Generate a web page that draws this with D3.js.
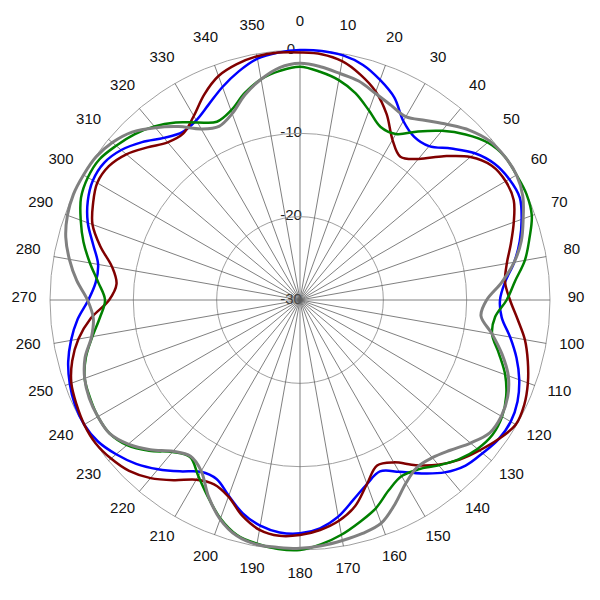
<!DOCTYPE html>
<html>
<head>
<meta charset="utf-8">
<script src="https://cdn.jsdelivr.net/npm/d3@7/dist/d3.min.js"></script>
<style>
  html, body { margin: 0; padding: 0; background: #fff; }
  svg { display: block; }
  text { font-family: "Liberation Sans", Arial, sans-serif; }
</style>
</head>
<body>
<svg id="chart" width="600" height="600"></svg>
<script>
// Angles (degrees, clockwise from top), every 5 degrees
const angles = d3.range(0, 360, 5);

// Series values in dB, one per angle
const blueValues = [
  0, 0, -0.2, -0.8, -1.9, -3.2, -5.2, -6.1, -5.9, -4.3, -2.6, -1.5,
  -1.0, -0.9, -1.7, -2.7, -3.9, -5.3, -6.0, -5.7, -4.4, -3.1, -2.0, -1.2,
  -0.8, -0.9, -1.4, -1.9, -3.0, -4.6, -6.2, -7.3, -6.5, -5.2, -3.6, -2.5,
  -2.0, -2.0, -2.5, -3.5, -5.0, -6.3, -6.2, -4.9, -3.5, -2.2, -1.2, -0.4,
  -0.1, -0.2, -0.6, -1.2, -2.1, -3.2, -4.6, -5.4, -5.4, -4.3, -2.9, -1.9,
  -1.3, -1.3, -2.0, -3.2, -4.6, -5.4, -5.1, -4.1, -2.8, -1.6, -0.6, -0.2
];
const redValues = [
  -0.3, -0.4, -0.9, -2.0, -3.4, -5.4, -7.8, -9.0, -7.9, -5.6, -3.3, -1.9,
  -1.5, -1.7, -2.7, -3.8, -4.8, -5.3, -4.8, -3.8, -2.6, -1.7, -0.9, -0.3,
  -0.1, -0.9, -1.9, -2.9, -4.2, -5.8, -7.5, -8.1, -6.5, -4.4, -3.1, -2.3,
  -1.8, -1.6, -2.0, -3.2, -4.9, -5.6, -5.1, -3.6, -2.1, -1.0, -0.4, -0.05,
  -0.1, -0.4, -0.8, -1.7, -3.0, -4.8, -7.1, -7.9, -7.1, -5.2, -3.5, -2.6,
  -1.9, -2.0, -2.8, -4.1, -5.3, -5.6, -4.5, -2.8, -1.4, -0.7, -0.3, -0.2
];
const greenValues = [
  -2.0, -2.5, -3.2, -4.3, -5.8, -7.1, -7.0, -5.3, -3.5, -1.9, -0.6, 0,
  0, 0, -0.4, -1.5, -2.6, -4.1, -5.2, -6.5, -6.6, -5.3, -3.8, -2.7,
  -2.0, -1.8, -2.2, -3.0, -4.1, -5.2, -5.6, -4.8, -3.4, -2.4, -1.4, -0.6,
  0, 0, -0.3, -0.8, -2.1, -3.9, -5.6, -7.0, -6.2, -4.4, -2.9, -2.1,
  -2.0, -2.2, -2.5, -3.4, -4.7, -5.9, -6.6, -5.7, -4.4, -3.1, -2.0, -1.0,
  -0.6, -0.6, -1.2, -1.9, -2.8, -4.0, -5.4, -6.4, -5.8, -4.3, -3.1, -2.4
];
const grayValues = [
  -1.6, -1.9, -2.4, -2.8, -3.6, -4.2, -4.6, -3.7, -2.5, -1.2, -0.3, 0,
  0, -0.5, -1.5, -2.5, -3.9, -5.7, -7.6, -8.2, -6.6, -4.9, -3.4, -2.5,
  -2.1, -2.2, -3.3, -4.5, -5.3, -5.5, -4.6, -3.0, -1.5, -1.0, -0.7, -0.4,
  -0.2, -0.2, -0.2, -0.7, -2.0, -4.0, -6.3, -7.1, -6.3, -4.6, -3.1, -2.1,
  -2.0, -2.1, -2.5, -3.3, -4.6, -5.1, -4.5, -3.1, -1.9, -0.9, -0.3, 0,
  0, -0.1, -0.6, -1.5, -3.0, -4.6, -6.3, -7.0, -6.2, -4.5, -3.1, -2.0
];

// Axis tick labels
const radialTicks = [-30, -20, -10, 0];
const gridCircles = [-20, -10, 0];
const angleTicks = d3.range(0, 360, 10);

const series = [
  { name: "blue",  values: blueValues,  color: "#0000ff", width: 2.5 },
  { name: "red",   values: redValues,   color: "#800000", width: 2.5 },
  { name: "green", values: greenValues, color: "#008000", width: 2.5 },
  { name: "gray",  values: grayValues,  color: "#808080", width: 3 }
];

const svg = d3.select("#chart");
const cx = 300, cy = 300, R = 250;
const g = svg.append("g").attr("transform", `translate(${cx},${cy})`);

const r = d3.scaleLinear().domain([-30, 0]).range([0, R]);
const toRad = d => d * Math.PI / 180;

// Radial labels
g.selectAll("text.rlab").data(radialTicks).enter().append("text")
  .attr("class", "rlab")
  .attr("x", -9)
  .attr("y", d => -r(d) - 2)
  .attr("text-anchor", "middle")
  .attr("dominant-baseline", "central")
  .attr("font-size", 15)
  .attr("fill", "#222")
  .text(d => d);

// Grid circles
g.selectAll("circle.grid").data(gridCircles).enter().append("circle")
  .attr("class", "grid")
  .attr("r", d => r(d))
  .attr("fill", "none")
  .attr("stroke", "#a0a0a0")
  .attr("stroke-width", 1);

// Spokes
g.selectAll("line.spoke").data(angleTicks).enter().append("line")
  .attr("class", "spoke")
  .attr("x1", 0).attr("y1", 0)
  .attr("x2", d => r(0) * Math.sin(toRad(d)))
  .attr("y2", d => -r(0) * Math.cos(toRad(d)))
  .attr("stroke", "#606060")
  .attr("stroke-width", 0.8);

// Angle labels
const labR = 276;
g.selectAll("text.alab").data(angleTicks).enter().append("text")
  .attr("class", "alab")
  .attr("x", d => labR * Math.sin(toRad(d)))
  .attr("y", d => -labR * Math.cos(toRad(d)) - 4)
  .attr("text-anchor", "middle")
  .attr("dominant-baseline", "central")
  .attr("font-size", 15)
  .attr("fill", "#111")
  .text(d => d);

// Series
const line = d3.lineRadial()
  .angle(d => toRad(d.a))
  .radius(d => r(d.v))
  .curve(d3.curveCatmullRomClosed.alpha(0.5));

series.forEach(s => {
  const pts = angles.map((a, i) => ({ a: a, v: s.values[i] }));
  g.append("path")
    .datum(pts)
    .attr("d", line)
    .attr("fill", "none")
    .attr("stroke", s.color)
    .attr("stroke-width", s.width)
    .attr("stroke-linejoin", "round");
});
</script>
</body>
</html>
